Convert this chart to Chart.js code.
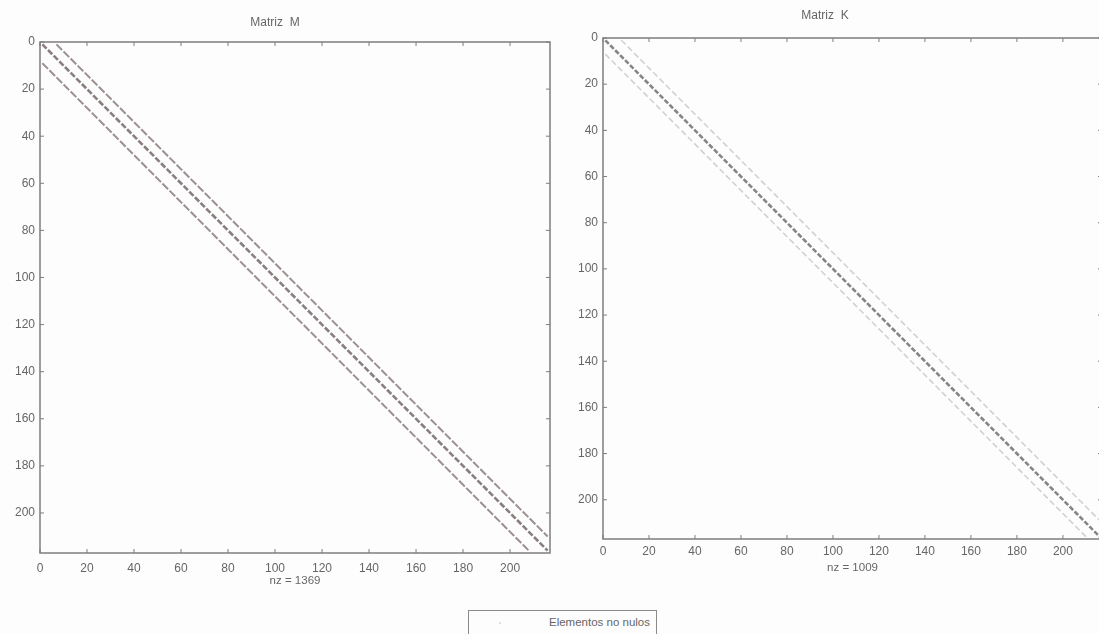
<!DOCTYPE html>
<html lang="es">
<head>
<meta charset="utf-8">
<title>Matrices M y K</title>
<script src="https://cdn.jsdelivr.net/npm/chart.js@4.4.1/dist/chart.umd.min.js"></script>
<style>
    html, body { margin: 0; padding: 0; background: #fdfdfd; overflow: hidden; }
    #wrap { position: relative; width: 1099px; height: 634px; }
    .plot { position: absolute; top: 0; height: 600px; }
    #plotM { left: 0; width: 565px; }
    #plotK { left: 548px; width: 560px; }
    #leyenda {
        position: absolute; left: 468px; top: 610px; width: 189px; height: 30px;
        border: 1px solid #8a8a8a; background: #fdfdfd; box-sizing: border-box;
        font: 11.5px 'Liberation Sans', Arial, sans-serif; color: #666;
    }
    #leyenda span { position: absolute; right: 6px; top: 5px; }
    #leyenda i { position: absolute; left: 30px; top: 11px; width: 2px; height: 2px; background: #ddd; }
</style>
</head>
<body>
<div id="wrap">
    <div class="plot" id="plotM"><canvas id="chartM"></canvas></div>
    <div class="plot" id="plotK"><canvas id="chartK"></canvas></div>
    <div id="leyenda"><i></i><span>Elementos no nulos</span></div>
</div>
<script>
/* ============================================================
   DATOS (patrón de dispersión, n = 216)
============================================================ */
const tickValues = [0, 20, 40, 60, 80, 100, 120, 140, 160, 180, 200];
const axisMax = 217;

const bandNames = ['Banda inferior', 'Diagonal', 'Banda superior'];

// Matriz M : inicio y fin de cada banda (columna, fila)
const mStartCol = [1, 1, 7];
const mStartRow = [9, 1, 1];
const mEndCol   = [208, 216, 216];
const mEndRow   = [216, 216, 210];
const nzM = 1369;

// Matriz K
const kStartCol = [1, 1, 8];
const kStartRow = [7, 1, 1];
const kEndCol   = [210, 216, 216];
const kEndRow   = [216, 216, 209];
const nzK = 1009;

/* ============================================================
   ESTILO
============================================================ */
const FONT = "'Liberation Sans', Arial, sans-serif";
const AXIS = '#7d7d7d';
const TEXT = '#666666';

/* Caja completa + marcas hacia dentro, como spy() de MATLAB */
const cajaPlugin = {
    id: 'caja',
    afterDraw(chart) {
        const { ctx, chartArea: a, scales } = chart;
        ctx.save();
        ctx.strokeStyle = AXIS;
        ctx.lineWidth = 1.5;
        ctx.strokeRect(a.left, a.top, a.right - a.left, a.bottom - a.top);
        ctx.lineWidth = 1;
        ctx.beginPath();
        scales.x.ticks.forEach(t => {
            const px = scales.x.getPixelForValue(t.value);
            ctx.moveTo(px, a.bottom); ctx.lineTo(px, a.bottom - 4);
            ctx.moveTo(px, a.top);    ctx.lineTo(px, a.top + 4);
        });
        scales.y.ticks.forEach(t => {
            const py = scales.y.getPixelForValue(t.value);
            ctx.moveTo(a.left, py);  ctx.lineTo(a.left + 4, py);
            ctx.moveTo(a.right, py); ctx.lineTo(a.right - 4, py);
        });
        ctx.stroke();
        ctx.restore();
    }
};

function bandas(startCol, startRow, endCol, endRow, colors, widths, dashes) {
    return bandNames.map((name, i) => ({
        label: name,
        data: [{ x: startCol[i], y: startRow[i] }, { x: endCol[i], y: endRow[i] }],
        showLine: true,
        borderColor: colors[i],
        borderWidth: widths[i],
        borderDash: dashes[i],
        pointRadius: 0,
        pointHoverRadius: 0
    }));
}

function crearSpy(canvasId, title, nz, datasets, g) {
    new Chart(document.getElementById(canvasId), {
        type: 'scatter',
        data: { datasets },
        options: {
            responsive: true,
            maintainAspectRatio: false,
            animation: false,
            events: [],
            layout: { padding: { top: g.padTop, right: g.padRight, left: 0, bottom: 0 } },
            plugins: {
                legend: { display: false },
                tooltip: { enabled: false },
                title: {
                    display: true, text: title, color: TEXT,
                    font: { family: FONT, size: 12, weight: 'normal' },
                    padding: { top: g.titleTop, bottom: g.titleBottom }
                }
            },
            scales: {
                x: {
                    type: 'linear', min: 0, max: axisMax,
                    grid: { display: false, drawTicks: false },
                    border: { display: false },
                    afterBuildTicks: s => { s.ticks = tickValues.map(v => ({ value: v })); },
                    afterFit: s => { s.height = g.xHeight; },
                    ticks: { color: TEXT, font: { family: FONT, size: 12 }, padding: g.xPad, maxRotation: 0 },
                    title: {
                        display: true, text: 'nz = ' + nz, color: TEXT,
                        font: { family: FONT, size: 11.5 },
                        padding: { top: 0, bottom: g.nzBottom }
                    }
                },
                y: {
                    type: 'linear', min: 0, max: axisMax, reverse: true,
                    grid: { display: false, drawTicks: false },
                    border: { display: false },
                    afterBuildTicks: s => { s.ticks = tickValues.map(v => ({ value: v })); },
                    afterFit: s => { s.width = g.yWidth; },
                    ticks: { color: TEXT, font: { family: FONT, size: 12 }, padding: 5 }
                }
            }
        },
        plugins: [cajaPlugin]
    });
}

/* ============================================================
   MATRIZ M
============================================================ */
crearSpy('chartM', 'Matriz  M', nzM,
    bandas(mStartCol, mStartRow, mEndCol, mEndRow,
        ['#9c9090', '#8a7f7f', '#9c9090'], [2, 2.6, 2], [[8, 2], [6, 2], [8, 2]]),
    { padTop: 10, padRight: 15, titleTop: 5, titleBottom: 12.6,
      yWidth: 40, xHeight: 47, xPad: 8, nzBottom: 12 });

/* ============================================================
   MATRIZ K
============================================================ */
crearSpy('chartK', 'Matriz  K', nzK,
    bandas(kStartCol, kStartRow, kEndCol, kEndRow,
        ['#d4d0d0', '#8a8585', '#d4d0d0'], [1.6, 2.6, 1.6], [[6, 3], [5, 2], [6, 3]]),
    { padTop: 3, padRight: 6, titleTop: 5, titleBottom: 15.6,
      yWidth: 55, xHeight: 61, xPad: 5, nzBottom: 25 });
</script>
</body>
</html>
